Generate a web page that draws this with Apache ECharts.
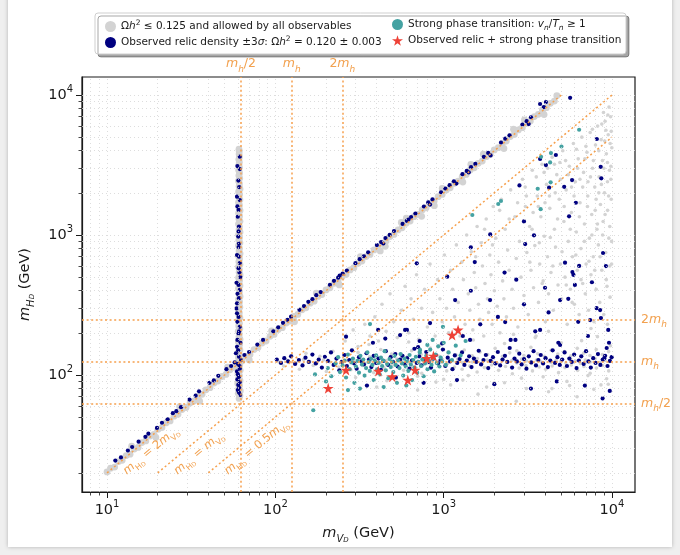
<!DOCTYPE html>
<html><head><meta charset="utf-8">
<script src="https://cdn.jsdelivr.net/npm/echarts@6/dist/echarts.min.js"></script>
<style>html,body{margin:0;padding:0;background:#fff}#c{width:680px;height:555px}</style>
</head><body><div id="c"></div>
<script>
// ---------------- axis ranges & ticks ----------------
const xRange = [7.1, 13700];
const yRange = [14.6, 13450];
const xMajor = [10, 100, 1000, 10000];
const yMajor = [100, 1000, 10000];
const xMinor = [8, 9, 20, 30, 40, 50, 60, 70, 80, 90, 200, 300, 400, 500, 600, 700, 800, 900, 2000, 3000, 4000, 5000, 6000, 7000, 8000, 9000];
const yMinor = [20, 30, 40, 50, 60, 70, 80, 90, 200, 300, 400, 500, 600, 700, 800, 900, 2000, 3000, 4000, 5000, 6000, 7000, 8000, 9000];

// reference lines (m_h = 125 GeV)
const refValues = [62.5, 125, 250];
const refLabels = ['{i|m}{s|h}{n|/2}', '{i|m}{s|h}', '{n|2}{i|m}{s|h}'];
const diagStart = [[10, 20], [20, 20], [40, 20]];
const diagEnd = [[5000, 10000], [10000, 10000], [10000, 5000]];
const diagLabels = ['{i|m}{s|H}{ss|D}{n| = 2}{i|m}{s|V}{ss|D}', '{i|m}{s|H}{ss|D}{n| = }{i|m}{s|V}{ss|D}', '{i|m}{s|H}{ss|D}{n| = 0.5}{i|m}{s|V}{ss|D}'];

// ---------------- data: Omega h^2 <= 0.125 (gray) ----------------
const grayDiag = [[10,20.3],[10.5,21.6],[11.1,22.0],[11.7,24.1],[12.3,24.6],[13.0,26.6],[13.7,27.2],[14.5,29.6],[15.3,30.4],[16.1,32.9],[17.0,33.8],[18.0,36.6],[19.0,37.7],[20.1,40.9],[21.2,42.1],[22.4,45.5],[23.7,47.0],[25.0,50.8],[26.4,52.4],[27.9,56.6],[29.5,58.6],[31.1,63.0],[32.9,65.2],[34.7,70.3],[36.7,72.9],[38.7,78.4],[40.9,81.2],[43.2,87.6],[45.6,90.5],[48.2,97.6],[50.9,101],[53.8,109],[56.8,113],[60.0,121],[63.4,126],[67.0,136],[70.7,140],[74.7,152],[78.9,157],[83.4,169],[88.1,175],[93.0,189],[98.3,195],[104,211],[110,218],[116,235],[122,243],[129,262],[136,271],[144,292],[152,302],[161,326],[170,337],[179,364],[189,376],[200,405],[211,420],[223,452],[236,469],[249,504],[263,523],[278,563],[293,584],[310,628],[327,651],[346,701],[365,727],[386,782],[408,811],[431,873],[455,905],[480,974],[507,1010],[536,1087],[566,1127],[598,1212],[632,1258],[667,1353],[705,1403],[745,1510],[787,1566],[831,1685],[878,1748],[927,1880],[980,1950],[1035,2098],[1093,2176],[1155,2342],[1220,2428],[1289,2613],[1361,2710],[1438,2916],[1519,3024],[1605,3254],[1695,3375],[1791,3630],[1892,3766],[1998,4052],[2111,4203],[2230,4522],[2355,4690],[2488,5046],[2628,5234],[2776,5630],[2933,5841],[3098,6283],[3273,6518],[3457,7011],[3652,7274],[3858,7823],[4075,8117],[4305,8730],[4548,9058],
[14,31],[19.5,35.8],[27,59.5],[35.5,65],[52,114],[70,128],[95,207],[130,240],[175,385],[240,440],[320,700],[420,770],[560,1230],[740,1360],[980,2150],[1300,2390],[1720,3780],[2280,4150],[3020,6640],[3950,7250],[4700,9900],[2600,5700],[1450,3190],[880,1620],[600,1320],[450,830]];
const grayVert = [[60.9,68],[61.6,71],[60.2,74],[61.9,77],[60.6,80],[61.3,84],[59.8,87],[61.7,91],[60.5,95],[61.2,99],[60.0,103],[61.8,108],[60.7,112],[61.4,117],[59.9,122],[61.9,127],[60.4,133],[61.1,139],[60.1,145],[61.6,151],[60.7,158],[61.3,165],[60.3,172],[61.7,180],[60.8,188],[61.1,196],[60.2,205],[61.5,214],[60.6,224],[61.2,234],[60.4,245],[61.6,256],[60.8,267],[61.1,279],[60.3,292],[61.5,305],[60.7,319],[61.3,333],[60.5,348],[61.7,364],[60.9,380],[61.2,397],[60.4,415],[61.6,434],[60.7,453],[61.3,474],[60.5,495],[61.7,518],[60.9,541],[61.2,565],[60.4,591],[61.6,617],[60.7,645],[61.3,674],[60.5,705],[61.7,737],[60.9,770],[61.2,805],[60.4,841],[61.6,879],[60.7,919],[61.3,960],[60.5,1004],[61.7,1049],[60.9,1097],[61.2,1146],[60.4,1198],[61.6,1252],[60.7,1309],[61.3,1368],[60.5,1430],[61.7,1495],[60.9,1562],[61.2,1633],[60.4,1707],[61.6,1784],[60.7,1865],[61.3,1949],[60.5,2037],[61.7,2129],[60.9,2226],[61.2,2326],[60.4,2432],[61.4,2542],[60.7,2657],[61.3,2777],[60.6,2903],[61.2,3034],[60.8,3171],[61.1,3315],[60.7,3465],[61.2,3622],[60.9,3786],[61.0,3957],[60.8,4100]];
const grayBand = [[105,124],[118,127],[133,122],[147,129],[160,125],[176,121],[193,128],[211,124],[229,130],[250,122],[270,127],[292,125],[316,131],[340,121],[366,126],[394,129],[425,123],[455,127],[490,121],[527,130],[565,125],[607,122],[650,128],[698,124],[748,131],[802,122],[858,127],[920,125],[985,129],[1055,121],[1130,126],[1210,130],[1295,123],[1385,127],[1480,124],[1585,131],[1695,122],[1815,128],[1940,125],[2075,121],[2220,129],[2375,124],[2540,127],[2720,122],[2905,130],[3110,126],[3325,121],[3555,128],[3800,124],[4065,131],[4345,123],[4650,127],[4970,125],[5315,122],[5685,130],[6080,126],[6500,121],[6950,128],[7430,124],[7950,131],[8500,123],[9090,127],[9720,125],
[112,116],[139,110],[168,117],[201,106],[238,114],[281,109],[330,117],[384,104],[442,113],[507,118],[578,108],[656,115],[741,103],[833,112],[933,117],[1042,107],[1160,114],[1288,110],[1428,116],[1580,105],[1745,113],[1925,118],[2120,108],[2330,115],[2560,102],[2810,112],[3080,117],[3370,107],[3690,114],[4035,110],[4410,116],[4815,104],[5255,113],[5730,118],[6250,108],[6810,115],[7420,103],[8080,112],[8790,117],[9560,107],
[125,138],[152,143],[184,136],[220,148],[262,139],[310,145],[363,135],[423,152],[490,141],[563,137],[645,149],[735,140],[833,156],[940,136],[1058,145],[1186,139],[1326,151],[1478,137],[1644,146],[1825,140],[2022,155],[2236,136],[2469,144],[2722,149],[2997,138],[3296,158],[3620,142],[3971,136],[4352,150],[4765,141],[5212,147],[5696,137],[6220,155],[6786,143],[7398,138],[8060,152],[8775,140],[9547,147],
[300,96],[460,91],[700,98],[1000,93],[1400,99],[2000,88],[2900,95],[3900,97],[5400,90],[7200,99],[9300,94],[360,165],[620,172],[950,163],[1500,178],[2300,168],[3500,185],[5000,170],[6600,176],[8200,188],[9800,162],[1800,82],[4400,80],[8600,85],[2600,195],[4200,205],[7500,215],[9400,230]];
const graySparse = [[260,175],[290,210],[310,160],[340,230],[365,190],[390,260],[410,175],[430,320],[455,205],[480,380],[505,240],[530,185],[560,290],[590,430],[620,200],
[640,350],[660,250],[690,520],[710,180],[740,300],[770,410],[800,220],[830,620],[860,280],[890,190],[920,480],[950,350],[980,240],[1010,720],[1040,300],[1070,200],[1100,560],[1130,410],[1160,260],[1190,850],
[1220,330],[1250,190],[1280,640],[1310,480],[1340,230],[1370,1000],[1400,380],[1430,290],[1460,760],[1490,210],[1520,540],[1550,420],[1580,1150],[1610,320],[1640,250],[1670,880],[1700,600],[1730,190],[1760,450],[1790,1300],[1820,350],[1850,280],[1880,720],[1910,520],[1940,230],[1970,1600],[2000,400],[2040,950],[2080,310],[2120,640],[2160,200],[2200,1800],[2240,470],[2280,350],[2320,1100],[2360,260],[2400,780],[2450,560],
[2500,2100],[2550,410],[2600,300],[2650,1350],[2700,680],[2760,220],[2820,900],[2880,500],[2940,2500],[3000,370],[3060,1600],[3120,750],[3180,270],[3240,1150],[3300,560],[3360,2900],[3420,420],[3480,840],[3540,190],[3600,1900],[3660,330],[3720,620],[3780,1350],[3840,3200],[3900,470],[3960,980],[4020,240],[4080,2300],[4140,700],[4200,380],[4270,1550],[4340,540],[4410,3600],[4480,290],[4550,1100],[4620,820],[4700,2700],[4780,440],[4860,1800],[4940,620],
[5020,350],[5100,4000],[5180,1250],[5260,500],[5340,2100],[5420,230],[5500,900],[5580,3100],[5660,410],[5740,1450],[5820,700],[5900,4500],[5980,320],[6060,2400],[6140,1050],[6220,560],[6300,3500],[6380,270],[6460,1700],[6540,800],[6620,5000],[6700,450],[6780,2800],[6860,1200],[6940,380],[7020,620],[7100,3900],[7180,1900],[7260,290],[7340,950],[7420,5400],[7500,520],[7580,1400],[7660,3000],[7740,700],[7820,240],[7900,2200],[7980,4400],[8060,410],[8140,1100],[8220,6000],[8300,850],[8380,2600],[8460,330],[8540,1650],[8620,4800],[8700,560],[8780,3400],[8860,1250],[8940,270],[9020,2000],[9100,6500],[9180,750],[9260,3800],[9340,430],[9420,1500],[9500,5200],[9580,950],[9660,2900],[9740,360],[9820,7000],[9900,1800],[9950,620],[9980,4200],[9700,1150],[9400,2400],[9200,5600],[8900,7500],[9600,8200],[9850,3100],
[400,82],[700,78],[1100,85],[1600,73],[2300,88],[3100,80],[4200,76],[5600,84],[7800,79],[9500,86],[6200,70],[2700,65],[1300,92],[900,89],[520,94],
[3100,1900],[3250,640],[3400,1450],[3550,2600],[3700,880],[3850,450],[4000,1700],[4150,3000],[4300,960],[4450,600],[4600,2000],[4750,1300],[4900,3300],[5050,760],[5200,1600],[5350,440],[5500,2700],[5650,1100],[5800,330],[5950,1900],[6100,720],[6250,3000],[6400,1350],[6550,480],[6700,2200],[6850,900],[7000,4300],[7150,1600],[7300,650],[7450,2600],[7600,1000],[7750,3400],[7900,560],[8050,1800],[8200,1200],[8350,4000],[8500,700],[8650,2300],[8800,1000],[8950,3000],[9100,1400],[9250,480],[9400,3300],[9550,1900],[9700,600],[9850,2500],[9950,900],[9900,5500],[9750,4500],[9450,7200],[9050,4700],[8700,6200],[8350,2000],[7950,1500],[7650,5700],[7200,2400],[6900,3500],[6450,2500],[6150,4100],[5750,2200],[5300,3400],[4950,2500],[4550,3200],[4250,1900],[3950,2800],[3650,1600],[3350,1100],[3050,2200],[2750,1700],[2450,1300],[2150,1500],[1950,850],[1750,1100],[1550,700]];

// ---------------- data: observed relic density (navy) ----------------
const relicDiag = [[11.2,24.5],[12.1,25.8],[13.3,28.9],[14.1,30.6],[15.4,33.4],[16.9,36.2],[17.6,38.1],[19.8,41.9],[21.2,45.6],[22.9,48.3],[24.6,53.4],[25.8,55.2],[27.5,58.9],[30.9,66.8],[33.6,71.2],[35.2,76.5],[40.6,87.9],[43.1,91.5],[45.8,98.6],[51.2,110],[54.6,116],[57.3,123],[65.5,139],[69.8,146],[78.2,165],[84.5,178],[97.3,205],[104,219],[111,236],[118,248],[124,261],[139,292],[148,311],[157,333],[166,348],[175,372],[186,391],[211,441],[223,471],[236,496],[241,512],[251,530],[266,558],[299,629],[317,672],[336,705],[356,752],[401,848],[425,891],[438,870],[451,951],[478,1002],[507,1068],[570,1200],[604,1262],[618,1290],[640,1345],[679,1422],[763,1599],[809,1708],[830,1650],[858,1795],[965,2020],[1023,2150],[1085,2270],[1150,2418],[1190,2330],[1293,2720],[1371,2868],[1410,2800],[1454,3052],[1542,3220],[1733,3620],[1838,3860],[1900,3700],[2191,4580],[2323,4880],[2463,5150],[2936,6160],[3113,6500],[3200,6200],[3301,6940],[3740,8630],[3935,8200],[4050,8900],[5640,9550]];
const relicVert = [[61.5,3630],[59.5,3110],[61.5,2960],[60.3,2450],[61.0,2200],[59.2,1880],[61.5,1778],[59.5,1600],[60.5,1510],[59.8,1350],[60.8,1150],[60.5,1060],[60.2,975],[60.8,870],[60.5,820],[59.2,720],[60.8,700],[61.5,630],[60.5,580],[61.2,540],[62.0,500],[58.8,456],[60.5,440],[61.5,405],[59.6,380],[60.8,354],[59.2,325],[58.8,299],[59.2,276],[60.5,260],[59.5,240],[61.5,221],[60.9,205],[60.5,198],[59.5,178],[62.0,170],[59.2,159],[60.1,150],[58.3,143],[60.8,135],[62.5,128],[60.0,120],[61.3,116],[61.5,111],[59.2,106],[59.9,101],[60.8,97],[59.5,93],[61.5,89],[60.2,85],[61.0,81],[59.8,78],[60.8,75],[61.8,72]];
const relicBand = [[102,129],[108,122],[113,132],[119,125],[124,136],[131,120],[138,128],[145,117],[151,133],[158,124],[166,140],[174,121],[181,129],[189,113],[197,135],[205,126],[214,145],[222,118],[231,131],[240,108],[248,124],[257,139],[266,116],[275,128],[285,150],[294,121],[304,111],[314,134],[325,125],[336,119],[348,143],[360,129],[372,114],[384,137],[397,122],[410,131],[424,109],[438,126],[453,148],[468,118],[484,134],[500,124],[516,141],[533,115],[551,129],[569,137],[588,120],[607,132],[627,111],[648,127],[670,154],[692,122],[715,136],[738,117],[763,129],[788,146],[814,124],[841,113],[869,131],[898,139],[927,121],[958,128],[990,152],[1023,116],[1057,133],[1092,125],[1128,110],[1165,138],[1204,122],[1244,130],[1285,145],[1328,118],[1372,127],[1417,136],[1464,114],[1513,131],[1563,124],[1615,149],[1669,119],[1724,128],[1781,139],[1840,112],[1901,126],[1964,134],[2029,121],[2097,146],[2166,117],[2238,129],[2312,137],[2389,124],[2468,156],[2550,113],[2635,131],[2722,125],[2813,142],[2906,119],[3002,130],[3102,111],[3205,136],[3311,123],[3421,148],[3535,117],[3652,128],[3773,139],[3898,121],[4028,132],[4161,114],[4299,127],[4442,150],[4589,122],[4741,134],[4898,118],[5061,129],[5229,145],[5402,116],[5581,131],[5766,124],[5957,140],[6155,112],[6359,127],[6570,136],[6788,120],[7013,148],[7245,125],[7486,113],[7734,132],[7990,122],[8255,141],[8529,118],[8812,129],[9104,137],[9406,116],[9718,126],[9950,134]];
const relicScatter = [[263,188],[551,193],[605,210],[380,170],[450,182],[720,175],[980,168],[1300,190],[1650,230],[2100,260],[2500,178],[3000,320],[3500,205],[4200,280],[4800,170],[5500,350],[6300,240],[7200,190],[8100,300],[8600,255],[9500,210],[9600,170],[9300,156],[9000,132],[9700,77],[760,88],[1200,92],[2000,86],[3300,80],[4700,90],[6900,84],[520,96],[8800,68],[350,84],[1450,400],[2700,480],[4000,420],[5900,520],[7600,460],[9200,600],
[408,210],[590,210],[705,158],[1435,178],[1887,343],[2320,239],[2670,178],[3741,210],[4918,343],[6020,440],[7416,247],[8504,291],[4918,164],[1170,343],[830,235],
[8130,4850],[3740,3490],[4050,3160],[4640,3730],[8570,3070],[8640,2540],[5790,2470],[5200,2210],[2820,2260],[4230,2180],[6100,1700],[3000,1250],[5560,1360],[1890,1010],[3440,995],[3050,862],[1450,817],[8850,744],[1530,641],[5260,634],[6380,601],[5820,544],[2300,539],[1050,504],[692,628]];

// ---------------- data: strong phase transition (teal) ----------------
const strongPT = [[168,56],[172,101],[200,90],[205,112],[215,98],[228,121],[236,134],[242,105],[251,117],[258,127],[263,96],[270,140],[276,110],[283,123],[289,131],[295,88],[301,115],[308,126],[314,104],[320,137],[327,119],[333,129],[339,99],[346,112],[352,145],[358,124],[364,107],[371,131],[377,118],[384,92],[390,127],[397,138],[403,110],[410,122],[417,101],[424,133],[431,116],[438,127],[446,148],[453,108],[461,120],[469,95],[477,130],[485,114],[493,124],[502,105],[510,137],[519,118],[528,88],[537,127],[546,112],[555,141],[565,121],[575,99],[585,131],[595,115],[605,126],[616,107],[627,139],[638,119],[649,92],[660,128],[672,113],[684,135],[696,104],[708,124],[721,145],[734,116],[747,129],[760,98],[774,121],[788,137],[802,110],[817,126],[832,152],[847,118],[862,131],[878,106],[894,140],[910,122],[927,160],[944,115],[961,133],[979,125],[1000,170],[1030,118],[1070,145],[1120,128],[1180,162],[1260,138],[1350,175],[318,80],[270,78],[440,82],[600,84],[365,231],[990,221],[860,178],[800,164],[724,151],
[6380,5650],[5010,4290],[4340,3850],[3790,3620],[4290,3300],[4320,2380],[3620,2140],[3770,1530],[2190,1750],[2110,1665],[1480,1390]];

// ---------------- data: relic + strong PT (red stars) ----------------
const relicPT = [[206,80.4],[263,108.6],[409,106.8],[495,97.3],[612,92.1],[676,108.6],[794,131.6],[869,136.7],[1122,193],[1218,210]];

// ---------------- styling ----------------
const FONT = 'DejaVu Sans';
const OL = '#f6a04d';
const OT = '#f2a14f';
const INK = '#1a1a1a';
const STAR = 'path://M50,0 L61.2,34.5 L97.6,34.5 L68.2,55.9 L79.4,90.5 L50,69.1 L20.6,90.5 L31.8,55.9 L2.4,34.5 L38.8,34.5 Z';

const richOrange = {
  n: {fontSize: 12.5, fontFamily: FONT, color: OT, lineHeight: 20},
  i: {fontSize: 12.5, fontFamily: FONT, color: OT, fontStyle: 'italic', lineHeight: 20},
  s: {fontSize: 9, fontFamily: FONT, color: OT, fontStyle: 'italic', lineHeight: 13, verticalAlign: 'bottom'},
  ss: {fontSize: 6.5, fontFamily: FONT, color: OT, fontStyle: 'italic', lineHeight: 9, verticalAlign: 'bottom'}
};
const richDiag = {
  n: {fontSize: 11.5, fontFamily: FONT, color: OT, lineHeight: 18},
  i: {fontSize: 11.5, fontFamily: FONT, color: OT, fontStyle: 'italic', lineHeight: 18},
  s: {fontSize: 8, fontFamily: FONT, color: OT, lineHeight: 12, verticalAlign: 'bottom'},
  ss: {fontSize: 6, fontFamily: FONT, color: OT, lineHeight: 8, verticalAlign: 'bottom'}
};
const richTick = {
  b: {fontSize: 14.5, fontFamily: FONT, color: INK, lineHeight: 22},
  sup: {fontSize: 10, fontFamily: FONT, color: INK, lineHeight: 12, verticalAlign: 'top'}
};
const richName = {
  n: {fontSize: 14.5, fontFamily: FONT, color: INK, lineHeight: 22},
  i: {fontSize: 14.5, fontFamily: FONT, color: INK, fontStyle: 'italic', lineHeight: 22},
  s: {fontSize: 10, fontFamily: FONT, color: INK, fontStyle: 'italic', lineHeight: 15, verticalAlign: 'bottom'},
  ss: {fontSize: 7, fontFamily: FONT, color: INK, fontStyle: 'italic', lineHeight: 10, verticalAlign: 'bottom'}
};
const richLegend = {
  t: {fontSize: 10.5, fontFamily: FONT, color: INK, lineHeight: 15},
  i: {fontSize: 10.5, fontFamily: FONT, color: INK, fontStyle: 'italic', lineHeight: 15},
  p: {fontSize: 7.5, fontFamily: FONT, color: INK, lineHeight: 9, verticalAlign: 'top'},
  s: {fontSize: 7.5, fontFamily: FONT, color: INK, fontStyle: 'italic', lineHeight: 10, verticalAlign: 'bottom'}
};
const legendText = {
  allowed: '{t|Ω}{i|h}{p|2}{t| ≤ 0.125 and allowed by all observables}',
  relic: '{t|Observed relic density ±3}{i|σ}{t|: Ω}{i|h}{p|2}{t| = 0.120 ± 0.003}',
  pt: '{t|Strong phase transition: }{i|v}{s|n}{t|/}{i|T}{s|n}{t| ≥ 1}',
  both: '{t|Observed relic + strong phase transition}'
};

const supLabel = v => '{b|10}{sup|' + Math.round(Math.log10(v)) + '}';
const gridStyle = {type: [1, 3], color: '#d4d4d4', width: 0.8};

function baseAxis(range, pos) {
  return {type: 'log', logBase: 10, min: range[0], max: range[1], position: pos,
          splitLine: {show: false}, minorTick: {show: false}, minorSplitLine: {show: false}};
}

const gridLines = [];
xMajor.concat(xMinor).forEach(v => { if (v > xRange[0] && v < xRange[1]) gridLines.push({xAxis: v}); });
yMajor.concat(yMinor).forEach(v => { if (v > yRange[0] && v < yRange[1]) gridLines.push({yAxis: v}); });

const refLineData = [];
refValues.forEach((v, k) => {
  refLineData.push({xAxis: v, label: {show: true, position: 'end', distance: 3, formatter: refLabels[k], rich: richOrange}});
  refLineData.push({yAxis: v, label: {show: true, position: 'end', distance: 6, formatter: refLabels[k], rich: richOrange}});
});
diagStart.forEach((s, k) => {
  refLineData.push([{coord: s, label: {show: true, position: 'insideStartBottom', distance: [14, 2], formatter: diagLabels[k], rich: richDiag}}, {coord: diagEnd[k]}]);
});

const chart = echarts.init(document.getElementById('c'), null, {renderer: 'canvas'});
chart.setOption({
  animation: false,
  backgroundColor: '#efefef',
  graphic: [
    {type: 'rect', z: -100, shape: {x: 8, y: -10, width: 664, height: 557}, style: {fill: '#ffffff', shadowBlur: 4, shadowColor: 'rgba(0,0,0,0.25)'}},
    {type: 'rect', z: 3, shape: {x: 95, y: 13, width: 531, height: 41, r: 3}, style: {fill: '#ffffff', stroke: '#cfcfcf', lineWidth: 1, shadowColor: 'rgba(0,0,0,0.35)', shadowOffsetX: 3, shadowOffsetY: 3, shadowBlur: 0}}
  ],
  grid: {left: 82, right: 45, top: 77, bottom: 63, show: true, borderColor: INK, borderWidth: 1.2, backgroundColor: 'rgba(0,0,0,0)', containLabel: false, outerBoundsMode: 'none'},
  legend: [
    {orient: 'vertical', left: 100, top: 14, itemGap: 3, itemWidth: 11, itemHeight: 11, z: 5,
     data: [{name: 'allowed', icon: 'circle'}, {name: 'relic', icon: 'circle'}],
     formatter: n => legendText[n], textStyle: {fontFamily: FONT, fontSize: 10.5, color: INK, rich: richLegend}},
    {orient: 'vertical', left: 387, top: 14, itemGap: 3, itemWidth: 11, itemHeight: 11, z: 5,
     data: [{name: 'pt', icon: 'circle'}, {name: 'both', icon: STAR}],
     formatter: n => legendText[n], textStyle: {fontFamily: FONT, fontSize: 10.5, color: INK, rich: richLegend}}
  ],
  xAxis: [
    Object.assign(baseAxis(xRange, 'bottom'), {
      axisLine: {show: true, onZero: false, lineStyle: {color: INK, width: 1.2}},
      axisTick: {show: true, length: 6, lineStyle: {color: INK, width: 1}, customValues: xMajor},
      axisLabel: {show: true, margin: 7, customValues: xMajor, formatter: supLabel, rich: richTick},
      name: '{i|m}{s|V}{ss|D}{n| (GeV)}', nameLocation: 'middle', nameGap: 30,
      nameTextStyle: {rich: richName}
    }),
    Object.assign(baseAxis(xRange, 'bottom'), {
      axisLine: {show: false},
      axisTick: {show: true, length: 3.5, lineStyle: {color: INK, width: 0.8}, customValues: xMinor},
      axisLabel: {show: false}
    })
  ],
  yAxis: [
    Object.assign(baseAxis(yRange, 'left'), {
      axisLine: {show: true, onZero: false, lineStyle: {color: INK, width: 1.2}},
      axisTick: {show: true, length: 6, lineStyle: {color: INK, width: 1}, customValues: yMajor},
      axisLabel: {show: true, margin: 9, customValues: yMajor, formatter: supLabel, rich: richTick},
      name: '{i|m}{s|H}{ss|D}{n| (GeV)}', nameLocation: 'middle', nameGap: 46, nameRotate: 90,
      nameTextStyle: {rich: richName}
    }),
    Object.assign(baseAxis(yRange, 'left'), {
      axisLine: {show: false},
      axisTick: {show: true, length: 3.5, lineStyle: {color: INK, width: 0.8}, customValues: yMinor},
      axisLabel: {show: false}
    })
  ],
  series: [
    {type: 'scatter', name: 'gridlines', data: [], z: 1, silent: true,
     markLine: {silent: true, symbol: ['none', 'none'], label: {show: false}, lineStyle: gridStyle, animation: false, data: gridLines}},
    {type: 'scatter', name: 'reflines', data: [], z: 1, silent: true,
     markLine: {silent: true, symbol: ['none', 'none'], lineStyle: {type: [2, 2.6], color: OL, width: 1.5}, animation: false, data: refLineData}},
    {type: 'scatter', name: 'allowed', data: grayDiag.concat(grayVert), symbolSize: 6.8, z: 2,
     itemStyle: {color: '#d3d3d3', opacity: 1}},
    {type: 'scatter', name: 'allowed', data: grayBand.concat(graySparse), symbolSize: 3.6, z: 2,
     itemStyle: {color: '#d3d3d3', opacity: 1}},
    {type: 'scatter', name: 'relic', data: relicDiag.concat(relicVert, relicBand, relicScatter), symbolSize: 4.2, z: 3,
     itemStyle: {color: '#000080', opacity: 1}},
    {type: 'scatter', name: 'pt', data: strongPT, symbolSize: 4.2, z: 4,
     itemStyle: {color: '#44a2a2', opacity: 1}},
    {type: 'scatter', name: 'both', data: relicPT, symbol: STAR, symbolSize: 11, z: 5,
     itemStyle: {color: '#ee4237', opacity: 1}}
  ]
});
</script></body></html>
